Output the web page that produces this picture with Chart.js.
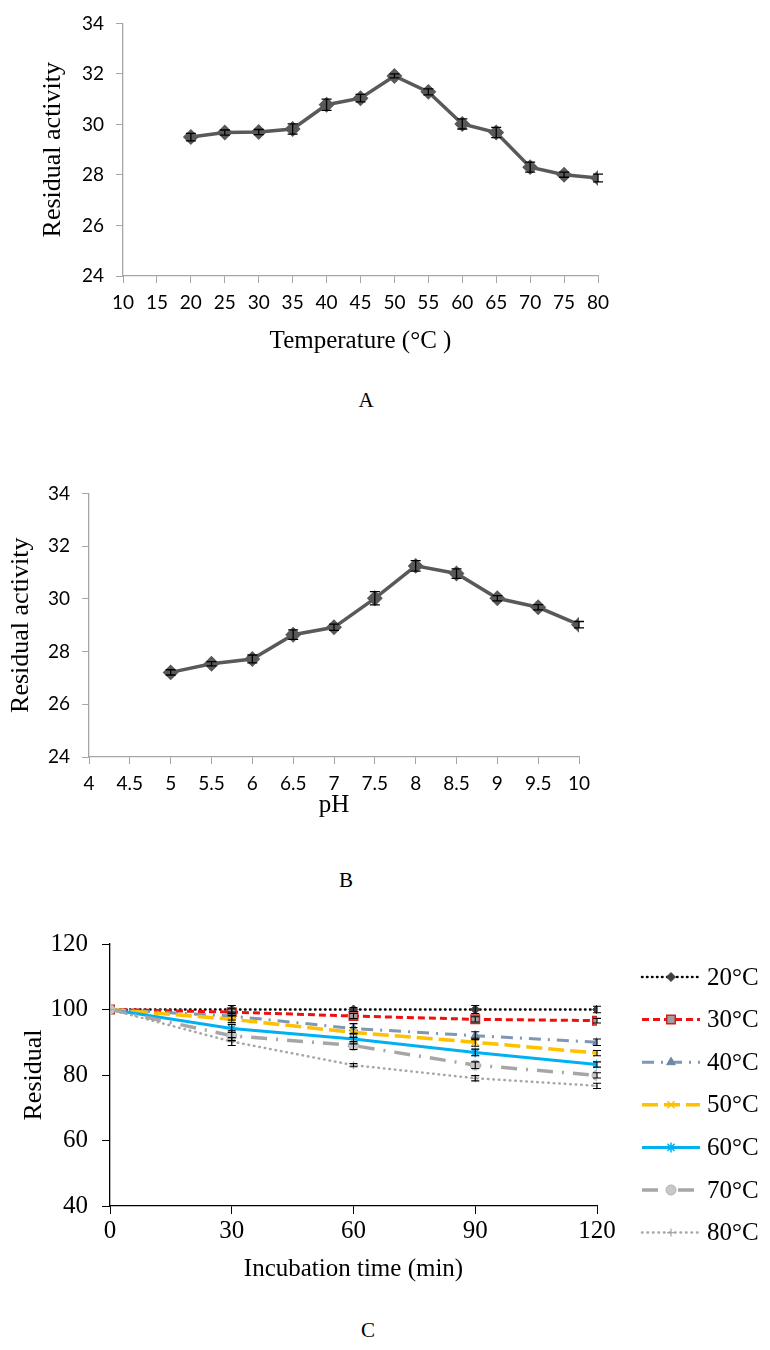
<!DOCTYPE html>
<html><head><meta charset="utf-8">
<script src="https://cdn.jsdelivr.net/npm/chart.js@4.4.0/dist/chart.umd.min.js"></script>
<style>
body{margin:0;background:#fff;width:770px;height:1350px;position:relative;overflow:hidden}
.box{position:absolute;left:0}
.lab{position:absolute;font-family:"Liberation Serif","Times New Roman",serif;font-size:21px;color:#000;transform:translate(-50%,-50%)}
</style></head><body>
<div class="box" style="top:0;width:640px;height:360px"><canvas id="cA"></canvas></div>
<div class="lab" style="left:366px;top:400px">A</div>
<div class="box" style="top:470px;width:620px;height:350px"><canvas id="cB"></canvas></div>
<div class="lab" style="left:346px;top:880px">B</div>
<div class="box" style="top:900px;width:770px;height:390px"><canvas id="cC"></canvas></div>
<div class="lab" style="left:368px;top:1330px">C</div>
<script>
// ---------- Panel A data ----------
const tempA = [20,25,30,35,40,45,50,55,60,65,70,75,80];
const activityA = [29.5,29.68,29.7,29.82,30.78,31.04,31.92,31.29,30.02,29.68,28.31,28.01,27.88];
const errA = [0.15,0.1,0.1,0.2,0.22,0.15,0.08,0.12,0.2,0.2,0.2,0.1,0.15];
const xTicksA = [10,15,20,25,30,35,40,45,50,55,60,65,70,75,80];
const yTicksAB = [24,26,28,30,32,34];
// ---------- Panel B data ----------
const pHB = [5,5.5,6,6.5,7,7.5,8,8.5,9,9.5,10];
const activityB = [27.21,27.54,27.72,28.64,28.92,30.02,31.25,30.96,30.02,29.68,29.02];
const errB = [0.1,0.08,0.15,0.18,0.12,0.25,0.2,0.18,0.1,0.1,0.12];
const xTicksB = [4,4.5,5,5.5,6,6.5,7,7.5,8,8.5,9,9.5,10];
// ---------- Panel C data ----------
const timeC = [0,30,60,90,120];
const xTicksC = [0,30,60,90,120];
const yTicksC = [40,60,80,100,120];
const labelsC = ['20°C','30°C','40°C','50°C','60°C','70°C','80°C'];
const r20 = [100,100,100,100,100];
const r30 = [100,99.2,98,97,96.6];
const r40 = [100,98,94.2,92,90];
const r50 = [100,97,93,90,86.7];
const r60 = [100,94.2,91,86.9,83.2];
const r70 = [100,92,89,83,79.9];
const r80 = [100,90.2,83,79,76.7];
const e20 = [0,1.2,0.6,1.2,1.0];
const e30 = [0,1.0,0.8,0.8,0.7];
const e40 = [0,1.2,1.5,1.2,1.0];
const e50 = [0,1.0,1.5,1.2,0.8];
const e60 = [0,1.2,1.5,1.0,0.8];
const e70 = [0,1.5,1.2,1.0,0.8];
const e80 = [0,1.2,0.5,0.8,0.8];

const SERIF = '"Liberation Serif","Times New Roman",serif';
const SANS = 'Lato, "Open Sans", sans-serif';

const errorBarPlugin = {
  id: 'errorBars',
  afterDatasetsDraw(chart, args, opts) {
    const ctx = chart.ctx, ys = chart.scales.y;
    chart.data.datasets.forEach((ds, i) => {
      if (!ds.errors) return;
      const meta = chart.getDatasetMeta(i);
      ctx.save();
      ctx.strokeStyle = opts.color || '#000';
      ctx.lineWidth = opts.lineWidth || 1.2;
      ctx.setLineDash([]);
      const c = opts.cap || 5;
      meta.data.forEach((pt, j) => {
        const e = ds.errors[j];
        if (!e) return;
        const v = ds.data[j].y;
        const x = pt.x;
        const y1 = ys.getPixelForValue(v + e), y2 = ys.getPixelForValue(v - e);
        ctx.beginPath();
        ctx.moveTo(x, y1); ctx.lineTo(x, y2);
        ctx.moveTo(x - c, y1); ctx.lineTo(x + c, y1);
        ctx.moveTo(x - c, y2); ctx.lineTo(x + c, y2);
        ctx.stroke();
      });
      ctx.restore();
    });
  }
};

function pts(xs, ys) { return xs.map((x, i) => ({x: x, y: ys[i]})); }

function singlePanel(id, xs, ys, errs, xTicks, xMin, xMax, xTitle, yAxisW, pad, xH, titleX) {
  new Chart(document.getElementById(id), {
    type: 'line',
    data: { datasets: [{
      data: pts(xs, ys), errors: errs,
      borderColor: '#595959', borderWidth: 3.5,
      pointStyle: 'rectRot', pointRadius: 5.5,
      pointBackgroundColor: '#595959', pointBorderColor: '#595959'
    }]},
    options: {
      responsive: true, maintainAspectRatio: false, animation: false,
      layout: { padding: pad },
      plugins: { legend: {display: false}, tooltip: {enabled: false},
        errorBars: {color: '#000', cap: 5, lineWidth: 1.3} },
      scales: {
        x: { type: 'linear', min: xMin, max: xMax,
          afterBuildTicks: s => { s.ticks = xTicks.map(v => ({value: v})); },
          afterFit: s => { s.height = xH; },
          grid: { drawOnChartArea: false, drawTicks: true, tickLength: 7, color: '#a6a6a6' },
          border: { display: true, color: '#a6a6a6', width: 1.3 },
          ticks: { color: '#000', font: {family: SANS, size: 19}, padding: 8, maxRotation: 0, autoSkip: false,
            callback: v => String(v) },
          title: { display: true, text: xTitle, color: '#000', font: {family: SERIF, size: 25}, padding: {top: 0, bottom: 0} }
        },
        y: { min: 24, max: 34,
          afterBuildTicks: s => { s.ticks = yTicksAB.map(v => ({value: v})); },
          afterFit: s => { s.width = yAxisW; },
          grid: { drawOnChartArea: false, drawTicks: true, tickLength: 7, color: '#a6a6a6' },
          border: { display: true, color: '#a6a6a6', width: 1.3 },
          ticks: { color: '#000', font: {family: SANS, size: 19}, padding: 12, callback: v => String(v) },
          title: { display: true, text: 'Residual activity', color: '#000', font: {family: SERIF, size: 26}, padding: {top: titleX, bottom: 0} }
        }
      }
    },
    plugins: [errorBarPlugin]
  });
}

singlePanel('cA', tempA, activityA, errA, xTicksA, 10, 80, 'Temperature (°C )', 123, {top: 20, right: 42, left: 0, bottom: 4}, 80, 38);
singlePanel('cB', pHB, activityB, errB, xTicksB, 4, 10, 'pH', 89, {top: 15, right: 41, left: 0, bottom: 0}, 63, 6);

// ---------- Panel C ----------
const seriesC = [r20, r30, r40, r50, r60, r70, r80];
const errsC = [e20, e30, e40, e50, e60, e70, e80];
const stylesC = [
  {borderColor: '#000000', borderWidth: 2.5, borderDash: [0.5, 4.5], borderCapStyle: 'round', pointStyle: 'rectRot', pointRadius: 4.5, pointBackgroundColor: '#404040', pointBorderColor: '#404040', pointBorderWidth: 1},
  {borderColor: '#ee1111', borderWidth: 3, borderDash: [7, 4], borderCapStyle: 'butt', pointStyle: 'rect', pointRadius: 6, pointBackgroundColor: '#a0a0a0', pointBorderColor: '#d02020', pointBorderWidth: 1.5},
  {borderColor: '#7f97b2', borderWidth: 3, borderDash: [12, 7, 2, 7], borderCapStyle: 'butt', pointStyle: 'triangle', pointRadius: 5, pointBackgroundColor: '#6e87a5', pointBorderColor: '#6e87a5', pointBorderWidth: 1},
  {borderColor: '#ffc000', borderWidth: 3.5, borderDash: [16, 6], borderCapStyle: 'butt', pointStyle: 'crossRot', pointRadius: 5, pointBackgroundColor: '#ffc000', pointBorderColor: '#ffc000', pointBorderWidth: 1.5},
  {borderColor: '#00b0f0', borderWidth: 3, borderDash: [], borderCapStyle: 'butt', pointStyle: 'star', pointRadius: 5, pointBackgroundColor: '#00b0f0', pointBorderColor: '#00b0f0', pointBorderWidth: 1.5},
  {borderColor: '#a6a6a6', borderWidth: 3.5, borderDash: [16, 9, 2, 9], borderCapStyle: 'butt', pointStyle: 'circle', pointRadius: 5, pointBackgroundColor: '#c8c8c8', pointBorderColor: '#b0b0b0', pointBorderWidth: 1},
  {borderColor: '#a6a6a6', borderWidth: 2.5, borderDash: [0.5, 5], borderCapStyle: 'round', pointStyle: 'cross', pointRadius: 4, pointBackgroundColor: '#a6a6a6', pointBorderColor: '#a6a6a6', pointBorderWidth: 1.2}
];

const legendC = {
  id: 'legendC',
  afterDraw(chart, args, opts) {
    const ctx = chart.ctx;
    chart.data.datasets.forEach((ds, i) => {
      const y = opts.top + i * opts.gap;
      ctx.save();
      ctx.strokeStyle = ds.borderColor; ctx.lineWidth = ds.borderWidth;
      ctx.setLineDash(ds.borderDash || []); ctx.lineCap = ds.borderCapStyle || 'butt';
      ctx.beginPath(); ctx.moveTo(opts.x0, y); ctx.lineTo(opts.x1, y); ctx.stroke();
      ctx.setLineDash([]); ctx.lineCap = 'butt';
      ctx.fillStyle = ds.pointBackgroundColor; ctx.strokeStyle = ds.pointBorderColor; ctx.lineWidth = ds.pointBorderWidth;
      Chart.helpers.drawPoint(ctx, {pointStyle: ds.pointStyle, radius: ds.pointRadius, rotation: 0, borderWidth: ds.pointBorderWidth}, (opts.x0 + opts.x1) / 2, y);
      ctx.fillStyle = '#000'; ctx.font = opts.font; ctx.textBaseline = 'middle'; ctx.textAlign = 'left';
      ctx.fillText(ds.label, opts.textX, y + 1);
      ctx.restore();
    });
  }
};

new Chart(document.getElementById('cC'), {
  type: 'line',
  data: { datasets: seriesC.map((s, i) => Object.assign({
    label: labelsC[i], data: pts(timeC, s), errors: errsC[i], order: -i
  }, stylesC[i])) },
  options: {
    responsive: true, maintainAspectRatio: false, animation: false,
    layout: { padding: {top: 44, right: 173, left: 0, bottom: 6} },
    plugins: { legend: {display: false}, tooltip: {enabled: false},
      errorBars: {color: '#000', cap: 4, lineWidth: 1.1},
      legendC: {top: 77, gap: 42.6, x0: 642, x1: 700, textX: 707, font: '25px ' + SERIF} },
    scales: {
      x: { type: 'linear', min: 0, max: 120,
        afterBuildTicks: s => { s.ticks = xTicksC.map(v => ({value: v})); },
        afterFit: s => { s.height = 78; },
        grid: { drawOnChartArea: false, drawTicks: true, tickLength: 8, color: '#000' },
        border: { display: true, color: '#000', width: 1.3 },
        ticks: { color: '#000', font: {family: SERIF, size: 25}, padding: 2, maxRotation: 0, autoSkip: false },
        title: { display: true, text: 'Incubation time (min)', color: '#000', font: {family: SERIF, size: 25}, padding: {top: 0, bottom: 0} }
      },
      y: { min: 40, max: 120,
        afterBuildTicks: s => { s.ticks = yTicksC.map(v => ({value: v})); },
        afterFit: s => { s.width = 110; },
        grid: { drawOnChartArea: false, drawTicks: true, tickLength: 8, color: '#000' },
        border: { display: true, color: '#000', width: 1.3 },
        ticks: { color: '#000', font: {family: SERIF, size: 25}, padding: 14 },
        title: { display: true, text: 'Residual', color: '#000', font: {family: SERIF, size: 26}, padding: {top: 19, bottom: 0} }
      }
    }
  },
  plugins: [errorBarPlugin, legendC]
});
</script>
</body></html>
